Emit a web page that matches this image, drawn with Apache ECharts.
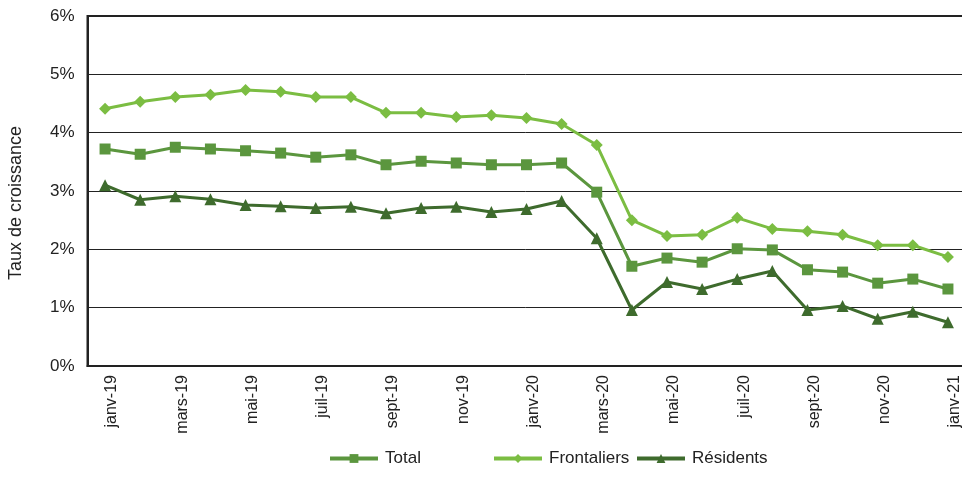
<!DOCTYPE html>
<html><head><meta charset="utf-8">
<script src="https://cdn.jsdelivr.net/npm/echarts@6/dist/echarts.min.js"></script>
<style>html,body{margin:0;padding:0;background:#fff}#c{width:962px;height:496px}</style>
</head><body><div id="c"></div>
<script>
const categories = ['janv-19','févr-19','mars-19','avr-19','mai-19','juin-19','juil-19','août-19','sept-19','oct-19','nov-19','déc-19',
 'janv-20','févr-20','mars-20','avr-20','mai-20','juin-20','juil-20','août-20','sept-20','oct-20','nov-20','déc-20','janv-21'];
const total = [3.72,3.63,3.75,3.72,3.69,3.65,3.58,3.62,3.45,3.51,3.48,3.45,3.45,3.48,2.98,1.71,1.85,1.78,2.01,1.99,1.65,1.61,1.42,1.49,1.32];
const frontaliers = [4.41,4.53,4.61,4.65,4.73,4.70,4.61,4.61,4.34,4.34,4.27,4.30,4.25,4.15,3.79,2.50,2.23,2.25,2.54,2.35,2.31,2.25,2.07,2.07,1.87];
const residents = [3.10,2.85,2.91,2.86,2.76,2.74,2.71,2.73,2.62,2.71,2.73,2.64,2.69,2.83,2.19,0.96,1.44,1.32,1.49,1.63,0.96,1.03,0.81,0.93,0.75];
const yTicks = [0,1,2,3,4,5,6];

const chart = echarts.init(document.getElementById('c'));
const font = 'Liberation Sans, Arial, sans-serif';
function mk(name, data, color, symbol, size) {
  return {name, type:'line', data, symbol, symbolSize:size,
    lineStyle:{color, width:3}, itemStyle:{color}, animation:false};
}
function lg(name, left) {
  return {data:[name], left, top:450, padding:0, itemWidth:48, itemHeight:11, itemGap:0,
    lineStyle:{width:4}, textStyle:{fontFamily:font, fontSize:17, color:'#222', padding:[0,0,0,2]}};
}
chart.setOption({
  animation:false,
  grid:{left:87.5, right:-3.5, top:16, bottom:130, show:true, borderColor:'#222', borderWidth:2,
    outerBoundsMode:'none', containLabel:false},
  legend:[lg('Total',328), lg('Frontaliers',492), lg('Résidents',635)],
  xAxis:{type:'category', data:categories, boundaryGap:true,
    axisLine:{lineStyle:{color:'#222', width:2}},
    axisTick:{show:false},
    axisLabel:{rotate:90, interval:1, fontFamily:font, fontSize:16, color:'#222', margin:9,
      verticalAlign:'top', lineHeight:14}},
  yAxis:{type:'value', min:yTicks[0], max:yTicks[yTicks.length-1], interval:1,
    name:'Taux de croissance', nameLocation:'middle', nameGap:62, nameRotate:90,
    nameTextStyle:{fontFamily:font, fontSize:18, color:'#222', padding:[0,24,0,0]},
    axisLine:{show:true, lineStyle:{color:'#222', width:2}},
    axisTick:{show:false},
    axisLabel:{formatter:v=>v+'%', fontFamily:font, fontSize:17, color:'#222', margin:13},
    splitLine:{lineStyle:{color:'#222', width:1}}},
  series:[
    mk('Total', total, '#5b963e', 'rect', 11),
    mk('Frontaliers', frontaliers, '#7bbd42', 'diamond', 12),
    mk('Résidents', residents, '#3e6b2d', 'triangle', 12)
  ]
});
</script></body></html>
